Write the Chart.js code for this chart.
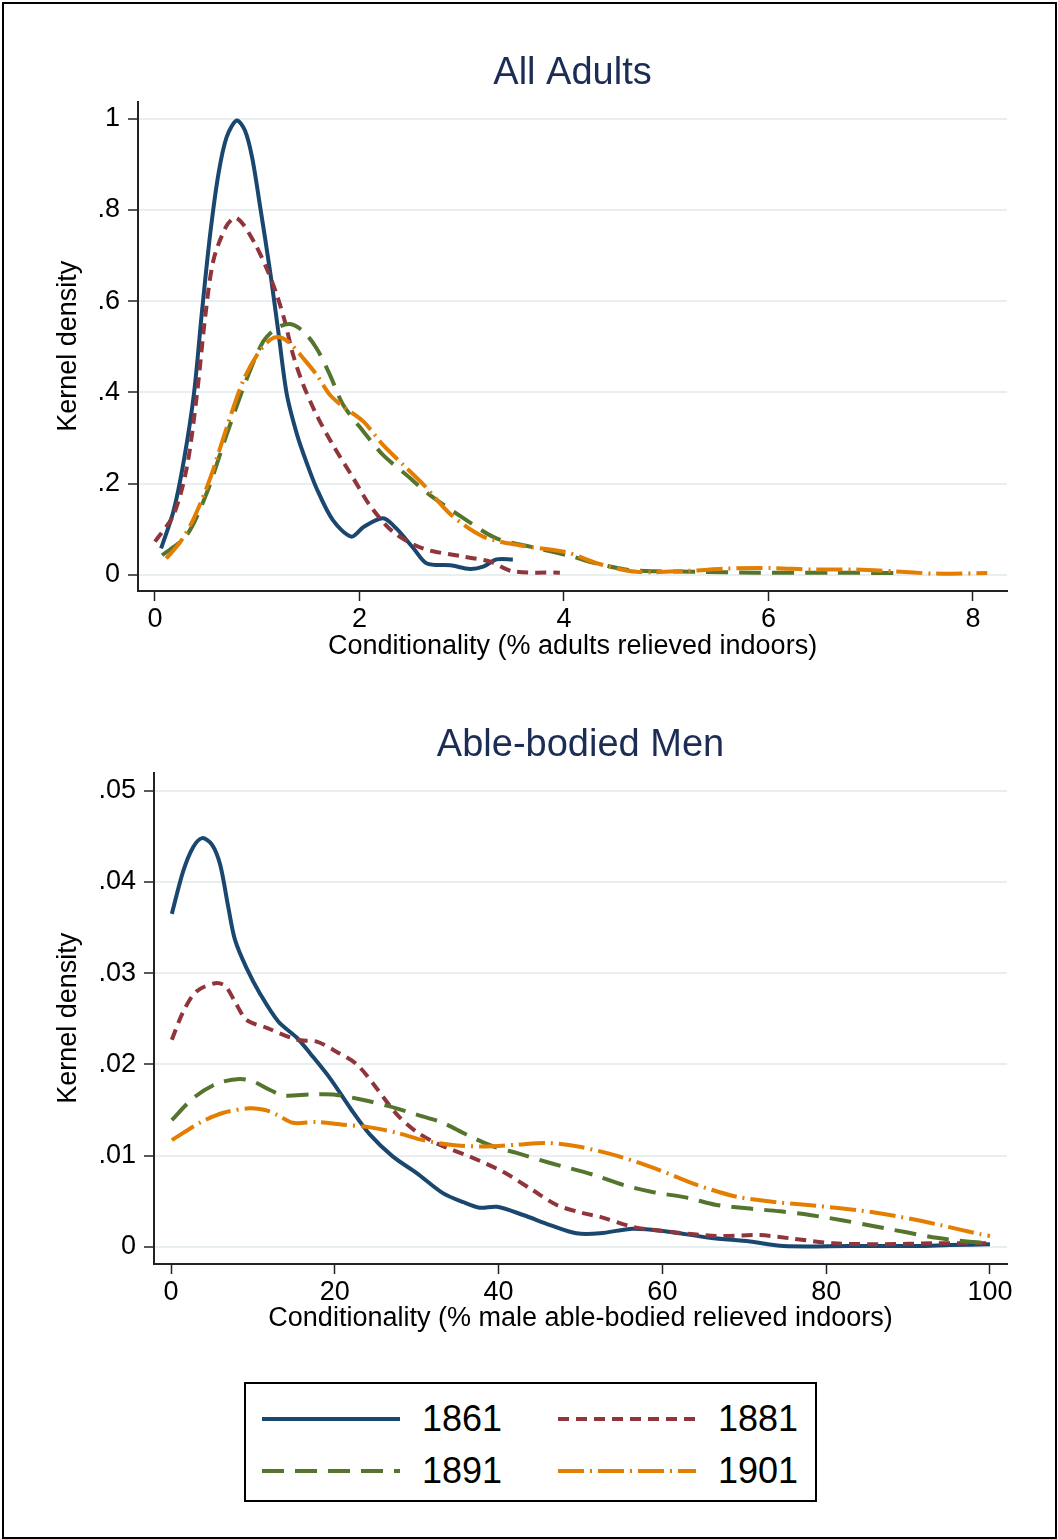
<!DOCTYPE html>
<html>
<head>
<meta charset="utf-8">
<script src="https://cdn.jsdelivr.net/npm/chart.js@4"></script>
<style>
  body { margin: 0; background: #fff; font-family: "Liberation Sans", Arial, sans-serif; }
  #page { position: relative; width: 1058px; height: 1539px; }
  #frame { position: absolute; left: 2px; top: 2px; width: 1051px; height: 1533px; border: 2px solid #000; }
  .panel { position: absolute; left: 0; width: 1058px; height: 650px; }
  #legend { position: absolute; left: 244px; top: 1382px; width: 569px; height: 116px; border: 2px solid #000; }
  .item { position: absolute; font-size: 36px; color: #000; line-height: 40px; }
  .item svg { position: absolute; top: 12px; }
</style>
</head>
<body>
<div id="page">
  <div id="frame"></div>
  <div class="panel" style="top:30px"><canvas id="adults"></canvas></div>
  <div class="panel" style="top:700px"><canvas id="men"></canvas></div>
  <div id="legend"></div>
</div>
<script>
// years / colours (Stata s2color)
const years = ['1861', '1881', '1891', '1901']
const colors = ['#1a476f', '#90353b', '#55752f', '#e37e00']
const dashes = [[], [11, 7], [22, 11], [26, 6, 2, 6]]

// --- All Adults
const adultsXTicks = [0, 2, 4, 6, 8]
const adultsYTicks = [0, 0.2, 0.4, 0.6, 0.8, 1]
const adultsYLabels = ['0', '.2', '.4', '.6', '.8', '1']

const adults1861X = [0.06, 0.18, 0.28, 0.38, 0.46, 0.54, 0.62, 0.70, 0.80, 0.88, 0.95, 1.03, 1.13, 1.21, 1.29, 1.39, 1.48, 1.58, 1.74, 1.92, 2.04, 2.23, 2.36, 2.53, 2.66, 2.89, 3.08, 3.21, 3.34, 3.50]
const adults1861Y = [0.058, 0.139, 0.248, 0.395, 0.578, 0.747, 0.878, 0.959, 0.996, 0.974, 0.915, 0.805, 0.659, 0.527, 0.395, 0.307, 0.248, 0.190, 0.120, 0.084, 0.105, 0.124, 0.102, 0.058, 0.025, 0.021, 0.013, 0.018, 0.034, 0.034]
const adults1881X = [0.0, 0.18, 0.31, 0.41, 0.49, 0.57, 0.69, 0.78, 0.86, 0.98, 1.09, 1.19, 1.27, 1.35, 1.45, 1.58, 1.74, 1.94, 2.10, 2.33, 2.62, 3.02, 3.28, 3.50, 3.96]
const adults1881Y = [0.073, 0.131, 0.234, 0.395, 0.563, 0.688, 0.761, 0.783, 0.769, 0.725, 0.673, 0.615, 0.556, 0.483, 0.417, 0.351, 0.285, 0.212, 0.153, 0.094, 0.058, 0.040, 0.029, 0.008, 0.005]
const adults1891X = [0.07, 0.31, 0.51, 0.70, 0.90, 1.06, 1.19, 1.32, 1.45, 1.58, 1.71, 1.84, 2.04, 2.23, 2.46, 2.69, 3.02, 3.34, 3.67, 4.09, 4.25, 4.60, 4.91, 5.29, 5.87, 6.65, 7.30]
const adults1891Y = [0.043, 0.087, 0.182, 0.307, 0.431, 0.512, 0.541, 0.550, 0.534, 0.497, 0.439, 0.373, 0.314, 0.263, 0.219, 0.175, 0.124, 0.080, 0.062, 0.040, 0.029, 0.012, 0.008, 0.007, 0.005, 0.005, 0.004]
const adults1901X = [0.11, 0.25, 0.38, 0.54, 0.70, 0.86, 1.00, 1.13, 1.22, 1.32, 1.45, 1.58, 1.71, 1.84, 2.04, 2.23, 2.43, 2.63, 2.90, 3.21, 3.56, 4.02, 4.33, 4.71, 5.22, 5.60, 6.03, 6.42, 6.84, 7.23, 7.61, 8.14]
const adults1901Y = [0.036, 0.073, 0.124, 0.212, 0.322, 0.424, 0.483, 0.516, 0.521, 0.508, 0.475, 0.439, 0.395, 0.369, 0.336, 0.285, 0.241, 0.197, 0.131, 0.084, 0.065, 0.050, 0.025, 0.007, 0.009, 0.014, 0.015, 0.012, 0.012, 0.008, 0.003, 0.004]

// --- Able-bodied Men
const menXTicks = [0, 20, 40, 60, 80, 100]
const menYTicks = [0, 0.01, 0.02, 0.03, 0.04, 0.05]
const menYLabels = ['0', '.01', '.02', '.03', '.04', '.05']

const men1861X = [0.1, 1.5, 2.7, 3.8, 5.0, 6.0, 7.0, 7.8, 9.2, 10.9, 13.1, 15.4, 17.0, 19.4, 21.9, 24.3, 27.1, 30.0, 33.2, 35.7, 37.7, 39.8, 43.0, 46.3, 49.5, 52.4, 56.4, 60.5, 65.8, 70.7, 74.8, 82.9, 91.0, 95.1, 100]
const men1861Y = [0.0365, 0.0412, 0.0438, 0.0448, 0.0441, 0.0419, 0.0372, 0.0337, 0.0306, 0.0277, 0.0247, 0.0229, 0.0212, 0.0185, 0.0152, 0.0123, 0.0099, 0.0081, 0.0059, 0.0049, 0.0043, 0.0044, 0.0035, 0.0024, 0.0015, 0.0015, 0.0020, 0.0017, 0.0010, 0.0006, 0.0001, 0.0001, 0.0001, 0.0002, 0.0003]
const men1881X = [0.1, 1.5, 3.1, 5.4, 6.6, 7.8, 9.2, 11.7, 15.4, 17.8, 20.2, 22.7, 25.1, 27.6, 30.0, 32.8, 36.5, 40.6, 44.2, 47.1, 50.3, 52.4, 56.4, 60.5, 66.6, 71.9, 76.0, 80.9, 87.0, 93.1, 100]
const men1881Y = [0.0227, 0.0258, 0.0280, 0.0289, 0.0286, 0.0269, 0.0249, 0.0240, 0.0227, 0.0225, 0.0214, 0.0200, 0.0174, 0.0145, 0.0126, 0.0112, 0.0099, 0.0082, 0.0062, 0.0046, 0.0037, 0.0033, 0.0022, 0.0017, 0.0012, 0.0013, 0.0009, 0.0004, 0.0003, 0.0004, 0.0004]
const men1891X = [0.1, 2.7, 5.6, 8.4, 10.1, 12.1, 13.7, 17.0, 19.8, 23.5, 26.7, 30.0, 33.2, 36.1, 39.4, 42.2, 46.3, 51.6, 55.2, 58.9, 63.0, 66.6, 70.7, 74.4, 78.0, 82.1, 85.7, 89.8, 93.5, 97.2, 100]
const men1891Y = [0.0139, 0.0163, 0.0179, 0.0184, 0.0181, 0.0172, 0.0166, 0.0167, 0.0167, 0.0161, 0.0154, 0.0145, 0.0136, 0.0123, 0.0110, 0.0103, 0.0092, 0.0079, 0.0068, 0.0060, 0.0054, 0.0046, 0.0042, 0.0039, 0.0035, 0.0029, 0.0023, 0.0016, 0.0010, 0.0006, 0.0004]
const men1901X = [0.1, 3.5, 6.4, 9.6, 11.5, 12.9, 14.9, 17.8, 21.0, 24.3, 27.6, 30.8, 34.1, 38.1, 42.2, 45.8, 49.7, 54.8, 59.7, 64.2, 69.1, 74.0, 78.8, 84.1, 89.0, 93.9, 98.8, 100]
const men1901Y = [0.0117, 0.0136, 0.0147, 0.0152, 0.0150, 0.0145, 0.0136, 0.0137, 0.0134, 0.0131, 0.0125, 0.0117, 0.0112, 0.0110, 0.0112, 0.0114, 0.0110, 0.0099, 0.0084, 0.0068, 0.0055, 0.0049, 0.0045, 0.0040, 0.0033, 0.0024, 0.0014, 0.0012]

const FONT = "'Liberation Sans', Arial, sans-serif"
const axisColor = '#222'

function pts(xs, ys) {
  return xs.map((x, i) => ({ x: x, y: ys[i] }))
}

function makeDatasets(series) {
  return series.map((s, i) => ({
    label: years[i],
    data: pts(s[0], s[1]),
    borderColor: colors[i],
    borderWidth: 4,
    borderDash: dashes[i],
    pointRadius: 0,
    tension: 0.3,
    fill: false,
    order: 4 - i
  }))
}

function makeChart(id, cfg) {
  return new Chart(document.getElementById(id), {
    type: 'line',
    data: { datasets: makeDatasets(cfg.series) },
    options: {
      responsive: true,
      maintainAspectRatio: false,
      animation: false,
      layout: { padding: { left: 50, right: 51, top: 0, bottom: 0 } },
      plugins: {
        legend: { display: false },
        tooltip: { enabled: false },
        title: {
          display: true,
          fullSize: false,
          text: cfg.title,
          color: '#1c2d55',
          font: { family: FONT, size: 38, weight: 'normal' },
          padding: { top: cfg.titleTop, bottom: cfg.titleBottom }
        }
      },
      scales: {
        x: {
          type: 'linear',
          min: cfg.xMin,
          max: cfg.xMax,
          afterBuildTicks: (ax) => { ax.ticks = cfg.xTicks.map(v => ({ value: v })) },
          afterFit: (ax) => { ax.height = cfg.xHeight; ax.paddingLeft = 0; ax.paddingRight = 0 },
          ticks: {
            color: '#000', padding: 2, maxRotation: 0,
            font: { family: FONT, size: 27 },
            callback: (v) => String(v)
          },
          grid: { drawOnChartArea: false, tickLength: 10, tickColor: axisColor, tickWidth: 1.5 },
          border: { color: axisColor, width: 2 },
          title: {
            display: true, text: cfg.xTitle, color: '#000',
            font: { family: FONT, size: 27 },
            padding: { top: 0, bottom: cfg.xTitlePad }
          }
        },
        y: {
          type: 'linear',
          min: cfg.yMin,
          max: cfg.yMax,
          afterBuildTicks: (ax) => { ax.ticks = cfg.yTicks.map(v => ({ value: v })) },
          afterFit: (ax) => { ax.width = cfg.yWidth; ax.paddingTop = 0; ax.paddingBottom = 0 },
          ticks: {
            color: '#000', padding: 8,
            font: { family: FONT, size: 27 },
            callback: (v) => cfg.yLabels[cfg.yTicks.indexOf(v)]
          },
          grid: { color: '#e8eff1', lineWidth: 2, tickLength: 10, tickColor: axisColor, tickWidth: 1.5 },
          border: { color: axisColor, width: 2 },
          title: {
            display: true, text: 'Kernel density', color: '#000',
            font: { family: FONT, size: 27 },
            padding: { top: 2, bottom: 0 }
          }
        }
      }
    }
  })
}

makeChart('adults', {
  title: 'All Adults', titleTop: 21, titleBottom: 5,
  series: [[adults1861X, adults1861Y], [adults1881X, adults1881Y], [adults1891X, adults1891Y], [adults1901X, adults1901Y]],
  xMin: -0.166, xMax: 8.333, yMin: -0.0352, yMax: 1.0374,
  xTicks: adultsXTicks, yTicks: adultsYTicks, yLabels: adultsYLabels,
  xTitle: 'Conditionality (% adults relieved indoors)', xTitlePad: 17,
  xHeight: 89, yWidth: 88
})

makeChart('men', {
  title: 'Able-bodied Men', titleTop: 23, titleBottom: 4,
  series: [[men1861X, men1861Y], [men1881X, men1881Y], [men1891X, men1891Y], [men1901X, men1901Y]],
  xMin: -2.076, xMax: 102.08, yMin: -0.00187, yMax: 0.05198,
  xTicks: menXTicks, yTicks: menYTicks, yLabels: menYLabels,
  xTitle: 'Conditionality (% male able-bodied relieved indoors)', xTitlePad: 15,
  xHeight: 86, yWidth: 104
})

// legend box (2 x 2)
const legendSlots = [[16, 15], [312, 15], [16, 67], [312, 67]]
const legend = document.getElementById('legend')
years.forEach((yr, i) => {
  const el = document.createElement('div')
  el.className = 'item'
  el.style.left = legendSlots[i][0] + 'px'
  el.style.top = legendSlots[i][1] + 'px'
  el.style.width = '270px'
  el.style.height = '40px'
  el.innerHTML = '<svg width="140" height="16" style="left:0"><line x1="0" y1="8" x2="138" y2="8" stroke="' +
    colors[i] + '" stroke-width="4" stroke-dasharray="' + (dashes[i].join(' ') || 'none') + '"/></svg>' +
    '<span style="position:absolute;left:160px;top:0">' + yr + '</span>'
  legend.appendChild(el)
})
</script>
</body>
</html>
